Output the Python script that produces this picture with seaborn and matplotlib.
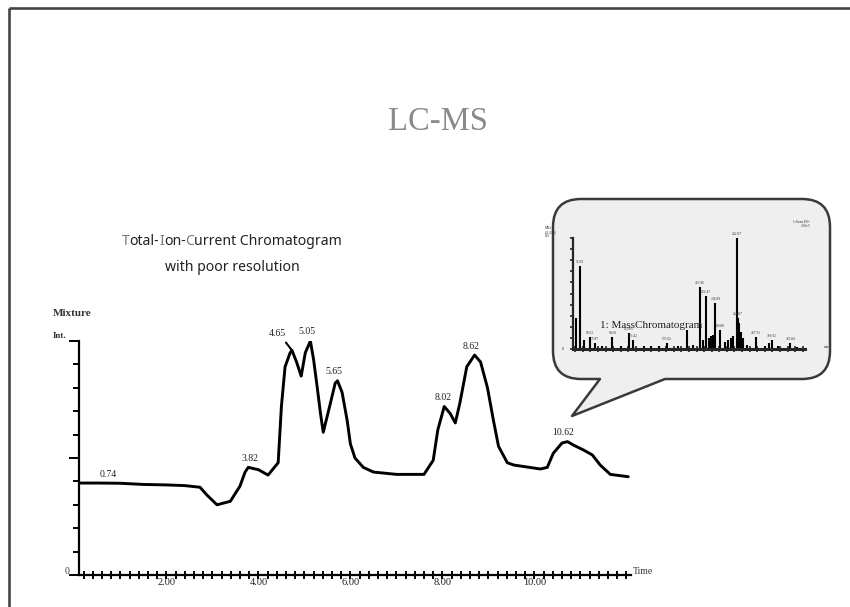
import numpy as np
import pandas as pd
import matplotlib
matplotlib.use("Agg")
import matplotlib.pyplot as plt
import seaborn as sns
from matplotlib.path import Path
from matplotlib.patches import PathPatch
from matplotlib.ticker import MultipleLocator, FixedLocator

# ---------------- data ----------------
tic_time = [0.10, 0.50, 1.00, 1.50, 2.00, 2.40, 2.73, 2.89, 3.10, 3.39, 3.60, 3.71, 3.78,
            4.00, 4.21, 4.43, 4.50, 4.58, 4.69, 4.73, 4.83, 4.93, 5.02, 5.13, 5.20, 5.28,
            5.35, 5.41, 5.56, 5.67, 5.72, 5.82, 5.93, 6.00, 6.10, 6.28, 6.50, 7.00, 7.60,
            7.80, 7.90, 8.04, 8.17, 8.28, 8.38, 8.53, 8.70, 8.83, 8.98, 9.11, 9.22, 9.41,
            9.55, 10.13, 10.28, 10.41, 10.60, 10.72, 10.85, 11.07, 11.26, 11.43, 11.65, 12.04]
tic_int = [39.3, 39.3, 39.2, 38.7, 38.5, 38.2, 37.5, 34.0, 30.0, 31.5, 38.0, 44.0, 46.0,
           45.0, 42.7, 48.0, 72.0, 89.0, 95.0, 96.0, 91.0, 85.0, 95.0, 100.0, 92.0, 80.0,
           69.0, 61.0, 73.0, 82.0, 83.0, 78.0, 66.0, 56.0, 50.0, 46.0, 44.0, 43.0, 43.0,
           49.0, 62.0, 72.0, 69.0, 65.0, 73.5, 89.0, 94.0, 91.0, 80.0, 66.0, 55.0, 48.0,
           47.0, 45.3, 46.0, 52.0, 56.4, 57.0, 55.5, 53.4, 51.3, 47.0, 43.0, 42.0]
peak_labels = ["0.74", "3.82", "4.65", "5.05", "5.65", "8.02", "8.62", "10.62"]
x_tick_values = [2, 4, 6, 8, 10]
x_tick_labels = ["2.00", "4.00", "6.00", "8.00", "10.00"]

ms_mz = [51.5, 56.0, 61.6, 69.62, 75.87, 85.0, 99.03, 110.0, 120.85, 126.42, 140.0, 150.0,
         160.0, 170.92, 185.0, 196.8, 205.0, 213.96, 218.0, 222.47, 226.0, 229.0, 232.0,
         234.89, 240.88, 248.0, 252.0, 255.0, 258.0, 262.87, 264.87, 266.5, 268.5, 271.0,
         276.0, 287.91, 300.0, 305.0, 309.92, 318.0, 333.84, 342.0]
ms_int = [28, 75, 8, 11, 5, 3, 11, 3, 14, 8, 3, 3,
          3, 5, 3, 17, 4, 56, 8, 48, 10, 12, 13,
          41, 17, 6, 8, 10, 12, 100, 28, 23, 15, 10,
          4, 11, 3, 5, 8, 3, 5, 2]
ms_peak_labels = {"55.99": 56.0, "69.62": 69.62, "75.87": 75.87, "99.03": 99.03,
                  "120.85": 120.85, "126.42": 126.42, "170.92": 170.92, "213.96": 213.96,
                  "222.47": 222.47, "234.89": 234.89, "240.88": 240.88, "262.87": 262.87,
                  "264.87": 264.87, "287.91": 287.91, "309.92": 309.92, "333.84": 333.84}

# ---------------- figure ----------------
sns.set_style("white")
plt.rcParams['font.family'] = ['Liberation Serif', 'DejaVu Sans']

W, H = 850, 607
fig = plt.figure(figsize=(8.5, 6.07), dpi=100)
fig.patch.set_facecolor("white")

def fx(x):
    return x / W

def fy(y):
    return 1 - y / H

T0_PX, T_SCALE = 74.4, 46.0
XLIM = (0.1, 12.1)
ax_l = T0_PX + T_SCALE * XLIM[0]
ax_r = T0_PX + T_SCALE * XLIM[1]
ax = fig.add_axes([fx(ax_l), fy(575), (ax_r - ax_l) / W, 234 / H], zorder=1)

df = pd.DataFrame({"Time": tic_time, "Int": tic_int})
sns.lineplot(data=df, x="Time", y="Int", ax=ax, color="black", lw=2.1,
             estimator=None, sort=False)
ax.set_xlim(*XLIM)
ax.set_ylim(0, 100)
ax.set_xlabel("")
ax.set_ylabel("")
ax.patch.set_alpha(0)
for s in ["top", "right"]:
    ax.spines[s].set_visible(False)
for s in ["left", "bottom"]:
    ax.spines[s].set_linewidth(1.6)
    ax.spines[s].set_color("black")
ax.xaxis.set_major_locator(FixedLocator(x_tick_values))
ax.set_xticklabels(x_tick_labels)
ax.xaxis.set_minor_locator(MultipleLocator(0.2))
ax.yaxis.set_major_locator(FixedLocator([0, 50, 100]))
ax.yaxis.set_minor_locator(MultipleLocator(10))
ax.set_yticklabels(["", "", ""])
ax.tick_params(axis="x", which="both", direction="inout", length=6, width=1.4,
               color="black", labelsize=7.5, pad=-1, bottom=True)
ax.tick_params(axis="y", which="major", direction="out", length=7, width=1.4,
               color="black", left=True)
ax.tick_params(axis="y", which="minor", direction="out", length=4, width=1.4,
               color="black", left=True)
for lab in ax.get_xticklabels():
    lab.set_color("#222222")

# peak labels
t_arr = np.array(tic_time)
v_arr = np.array(tic_int)
for lab in peak_labels:
    t = float(lab)
    m = (t_arr >= t - 0.15) & (t_arr <= t + 0.15)
    vmax = v_arr[m].max() if m.any() else np.interp(t, t_arr, v_arr)
    if lab == "4.65":
        j = np.argmin(np.abs(t_arr - 4.73))
        ax.annotate(lab, xy=(t_arr[j], v_arr[j]), xytext=(-10.5, 12), textcoords="offset points",
                    ha="center", va="center", fontsize=7, color="#222222",
                    arrowprops=dict(arrowstyle="-", color="black", lw=1.5,
                                    relpos=(0.8, 0.0), shrinkA=1, shrinkB=0))
    else:
        ax.annotate(lab, xy=(t, vmax), xytext=(0, 6.5), textcoords="offset points",
                    ha="center", va="center", fontsize=7, color="#222222")

# ---------------- overlay (pixel coords) ----------------
ax_bg = fig.add_axes([0, 0, 1, 1], zorder=2)
ax_bg.set_xlim(0, W)
ax_bg.set_ylim(H, 0)
ax_bg.axis("off")
ax_bg.patch.set_alpha(0)

# slide frame
ax_bg.plot([9, 9], [8, H], color="#454545", lw=1.9, solid_capstyle="butt")
ax_bg.plot([9, W], [8, 8], color="#454545", lw=1.9, solid_capstyle="butt")

# headings
ax_bg.text(438, 130, "LC-MS", fontsize=23.5, color="#8a8a8a", ha="center", va="baseline",
           family="Liberation Serif")

segs = [("T", "#7a7a7a"), ("otal-", "#222222"), ("I", "#7a7a7a"), ("on-", "#222222"),
        ("C", "#7a7a7a"), ("urrent Chromatogram", "#222222")]
full = "".join(s for s, _ in segs)
title_font = "Noto Sans"
title_cx, title_w = 232, 220
probe = ax_bg.text(title_cx, 245, full, fontsize=10, family=title_font,
                   ha="center", va="baseline", alpha=0)
fig.canvas.draw()
fs_title = 10 * title_w / probe.get_window_extent().width
probe.set_fontsize(fs_title)
fig.canvas.draw()
bb = probe.get_window_extent()
prev = ax_bg.text(bb.x0, 245, segs[0][0], fontsize=fs_title, family=title_font,
                  color=segs[0][1], ha="left", va="baseline")
for txt, col in segs[1:]:
    prev = ax_bg.annotate(txt, xy=(1, 0), xycoords=prev, ha="left", va="bottom",
                          fontsize=fs_title, family=title_font, color=col)
ax_bg.text(title_cx, 271, "with poor resolution", fontsize=fs_title, family=title_font,
           color="#222222", ha="center", va="baseline")

# axis captions
ax_bg.text(53, 316, "Mixture", fontsize=8, fontweight="bold", color="#333333",
           ha="left", va="baseline")
ax_bg.text(53, 338, "Int.", fontsize=6.5, fontweight="bold", color="#333333",
           ha="left", va="baseline")
ax_bg.text(70, 572, "0", fontsize=7, color="#333333", ha="right", va="center")
ax_bg.text(633, 571, "Time", fontsize=7, color="#333333", ha="left", va="center")

# speech bubble
L, R, T, B, r = 553, 830, 199, 379, 28
tail_a, tail_b, apex = 600, 665, (572, 416)
verts = [
    (L + r, T), (R - r, T), (R, T), (R, T + r), (R, B - r), (R, B), (R - r, B),
    (tail_b, B), apex, (tail_a, B), (L + r, B), (L, B), (L, B - r), (L, T + r), (L, T),
    (L + r, T), (L + r, T)]
codes = [Path.MOVETO, Path.LINETO, Path.CURVE3, Path.CURVE3, Path.LINETO, Path.CURVE3,
         Path.CURVE3, Path.LINETO, Path.LINETO, Path.LINETO, Path.LINETO, Path.CURVE3,
         Path.CURVE3, Path.LINETO, Path.CURVE3, Path.CURVE3, Path.CLOSEPOLY]
bubble = PathPatch(Path(verts, codes), facecolor="#efefef", edgecolor="#3a3a3a", lw=1.8,
                   joinstyle="round")
ax_bg.add_patch(bubble)

# ---------------- mass spectrum inset ----------------
ax_s = fig.add_axes([fx(573), fy(349), (805 - 573) / W, (349 - 238) / H], zorder=3)
ax_s.patch.set_alpha(0)
ax_s.vlines(ms_mz, 0, ms_int, color="black", lw=1.5)
ax_s.set_xlim(47, 353)
ax_s.set_ylim(0, 100)
for s in ["top", "right"]:
    ax_s.spines[s].set_visible(False)
ax_s.spines["left"].set_linewidth(1.6)
ax_s.spines["bottom"].set_linewidth(2.2)
ax_s.xaxis.set_major_locator(MultipleLocator(10))
ax_s.yaxis.set_major_locator(MultipleLocator(10))
ax_s.set_xticklabels([])
ax_s.set_yticklabels([])
ax_s.tick_params(axis="x", direction="inout", length=4, width=1.2, bottom=True)
ax_s.tick_params(axis="y", direction="out", length=2.5, width=1.2, left=True)
for lab, mz in ms_peak_labels.items():
    k = ms_mz.index(mz)
    ax_s.text(mz, ms_int[k] + 2, lab, fontsize=2.6, ha="center", va="bottom", color="#333333")
ax_s.text(-0.04, 0.0, "0", transform=ax_s.transAxes, fontsize=3, ha="right", va="center")
ax_s.text(-0.12, 1.05, "MIIz\n(21.055)\n100", transform=ax_s.transAxes, fontsize=2.6,
          ha="left", va="center", linespacing=1.0)
ax_s.text(1.08, 0.02, "m/z", transform=ax_s.transAxes, fontsize=2.6, ha="left", va="center")
fig.text(fx(810), fy(224), "1:Scan ES+\n2.36e5", fontsize=2.6, ha="right", va="center",
         zorder=5, linespacing=1.0)
fig.text(fx(600), fy(326), "1: MassChromatogram", fontsize=8, color="#222222",
         ha="left", va="center", zorder=5, family="Liberation Serif")

fig.savefig("out.png", dpi=100, facecolor="white")
